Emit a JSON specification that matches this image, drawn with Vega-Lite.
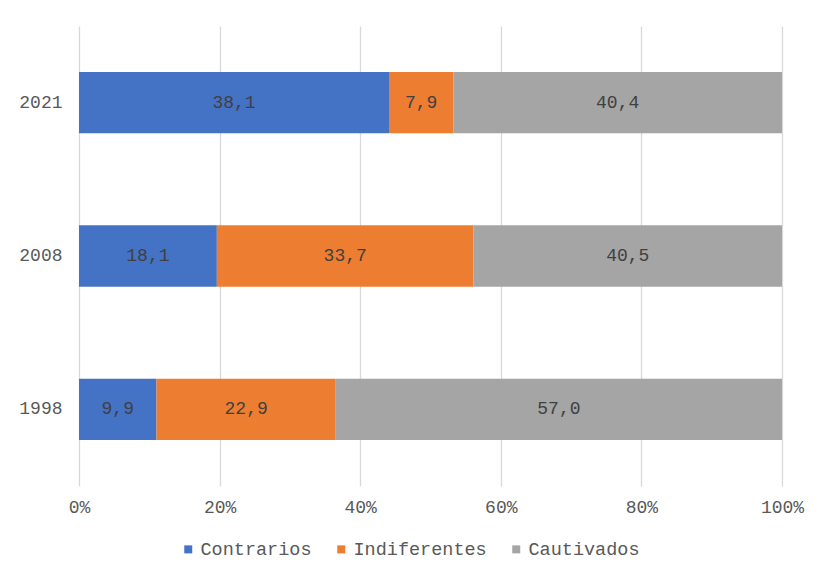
{
  "$schema": "https://vega.github.io/schema/vega-lite/v6.json",
  "width": 703,
  "height": 460,
  "autosize": "none",
  "padding": {"left": 79, "top": 26, "right": 49, "bottom": 97},
  "background": "white",
  "data": {
    "values": [
      {"anio": "2021", "grupo": "Contrarios", "orden": 1, "valor": 38.1},
      {"anio": "2021", "grupo": "Indiferentes", "orden": 2, "valor": 7.9},
      {"anio": "2021", "grupo": "Cautivados", "orden": 3, "valor": 40.4},
      {"anio": "2008", "grupo": "Contrarios", "orden": 1, "valor": 18.1},
      {"anio": "2008", "grupo": "Indiferentes", "orden": 2, "valor": 33.7},
      {"anio": "2008", "grupo": "Cautivados", "orden": 3, "valor": 40.5},
      {"anio": "1998", "grupo": "Contrarios", "orden": 1, "valor": 9.9},
      {"anio": "1998", "grupo": "Indiferentes", "orden": 2, "valor": 22.9},
      {"anio": "1998", "grupo": "Cautivados", "orden": 3, "valor": 57.0}
    ]
  },
  "encoding": {
    "y": {
      "field": "anio", "type": "nominal", "sort": "descending", "title": null,
      "scale": {"paddingInner": 0.6, "paddingOuter": 0.3},
      "axis": {"ticks": false, "domain": false, "labelPadding": 17, "labelFontSize": 18}
    },
    "x": {
      "field": "valor", "type": "quantitative", "stack": "normalize", "title": null,
      "scale": {"domain": [0, 1]},
      "axis": {"format": ".0%", "values": [0, 0.2, 0.4, 0.6, 0.8, 1], "ticks": false, "domain": false, "grid": true, "labelFlush": false, "labelPadding": 12, "labelFontSize": 18}
    },
    "order": {"field": "orden"}
  },
  "layer": [
    {
      "mark": {"type": "bar"},
      "encoding": {
        "color": {
          "field": "grupo", "type": "nominal", "title": null,
          "scale": {"domain": ["Contrarios", "Indiferentes", "Cautivados"], "range": ["#4472C4", "#ED7D31", "#A5A5A5"]},
          "legend": {"orient": "none", "legendX": 100, "legendY": 514, "direction": "horizontal", "symbolType": "square", "symbolSize": 64, "labelFontSize": 18.5, "columnPadding": 20, "labelOffset": 3}
        }
      }
    },
    {
      "mark": {"type": "text", "fontSize": 18, "color": "#404040"},
      "encoding": {
        "x": {"field": "valor", "type": "quantitative", "stack": "normalize", "bandPosition": 0.5},
        "text": {"field": "valor", "type": "quantitative", "format": ".1f"}
      }
    }
  ],
  "config": {
    "font": "Liberation Mono",
    "locale": {"number": {"decimal": ",", "thousands": ".", "grouping": [3], "currency": ["", " €"]}},
    "view": {"stroke": null},
    "axis": {"labelColor": "#595959", "gridColor": "#D9D9D9", "gridWidth": 1.3, "labelFont": "Liberation Mono"},
    "legend": {"labelColor": "#595959", "labelFont": "Liberation Mono"}
  }
}
